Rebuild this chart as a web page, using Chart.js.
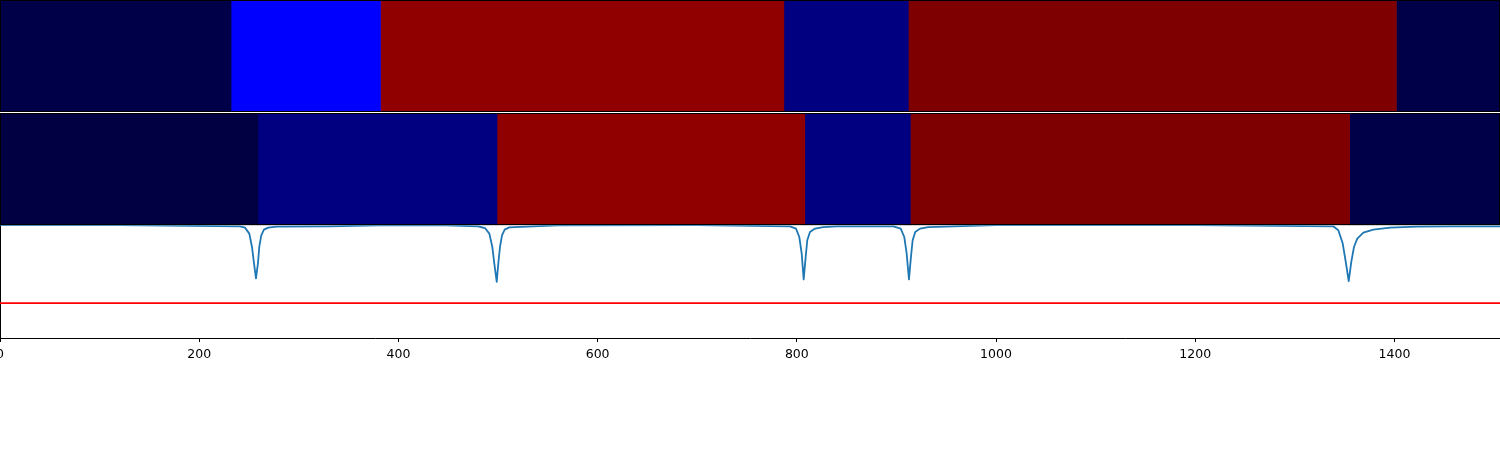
<!DOCTYPE html>
<html lang="en">
  <head>
     <meta charset="utf-8">
     <title>Segments and dips</title>
     <style>
       body { margin: 0; background: #fff; }
       #wrap { width: 1500px; height: 450px; }
     </style>
  </head>
  <script src="https://cdn.jsdelivr.net/npm/chart.js@4"></script>
  <body>
     <div id="wrap">
      <canvas id="chartCanvas" width="1500" height="450"></canvas>
     </div>
      <script>
        // two heat rows, each split into segments [start, end] on the x axis
        const rowLabels = ['top', 'bottom'];
        const topSegments = [[0, 232], [232, 382], [382, 787], [787, 912], [912, 1402], [1402, 1506]];
        const topColors = ['#000048', '#0000ff', '#900000', '#000080', '#7e0000', '#000048'];
        const bottomSegments = [[0, 259], [259, 499], [499, 808], [808, 914], [914, 1355], [1355, 1506]];
        const bottomColors = ['#000042', '#000080', '#900000', '#000080', '#7e0000', '#000048'];

        // the blue trace under the heat rows
        const traceX = [0, 120, 241, 246, 250.3, 253, 255, 257, 259, 260.3, 262.3, 265, 269.4, 277.8, 330, 380,
                        440, 480.2, 486.9, 491.3, 494.3, 496.3, 498.7, 500.3, 502, 504, 506.7, 511.3, 560, 700,
                        793.2, 799.2, 802.5, 804.9, 806.9, 808.9, 810.5, 813.2, 818.3, 826.6, 840, 870,
                        896.9, 904.3, 907.9, 910.3, 912.6, 914.6, 916.3, 918.9, 923.7, 932, 1000, 1200,
                        1338.6, 1343.7, 1348.1, 1351.4, 1354.1, 1356.7, 1359.4, 1362.7, 1368.8, 1378.8, 1395.6,
                        1422.4, 1455.8, 1506];
        const traceY = [0.012, 0.012, 0, -0.013, -0.073, -0.207, -0.37, -0.523, -0.37, -0.207, -0.09, -0.033, -0.013, -0.003, 0, 0.01,
                        0.012, 0, -0.017, -0.073, -0.207, -0.373, -0.557, -0.373, -0.207, -0.09, -0.033, -0.01, 0.01, 0.012,
                        0, -0.023, -0.107, -0.273, -0.533, -0.307, -0.14, -0.057, -0.023, -0.007, 0, 0,
                        0, -0.023, -0.107, -0.273, -0.533, -0.307, -0.14, -0.057, -0.023, -0.007, 0.012, 0.012,
                        0, -0.04, -0.173, -0.373, -0.55, -0.357, -0.207, -0.123, -0.063, -0.033, -0.013,
                        -0.003, 0, 0];
        const threshold = -0.77;
        const xTickStep = 200;

        const ctx = document.getElementById('chartCanvas');

        var heatDatasets = topSegments.map(function (seg, i) {
          return {
            type: 'bar',
            indexAxis: 'y',
            xAxisID: 'x',
            yAxisID: 'yHeat',
            data: [seg, bottomSegments[i]],
            backgroundColor: [topColors[i], bottomColors[i]],
            borderWidth: 0,
            grouped: false,
            barPercentage: 1,
            categoryPercentage: 1
          };
        });

        // black frames round each heat row, with a thin white gap between them
        const heatFrames = {
          id: 'heatFrames',
          afterDatasetsDraw: function (chart) {
            const s = chart.scales.yHeat;
            const c = chart.ctx;
            const left = chart.chartArea.left, width = chart.chartArea.right - left;
            const m = Math.round((s.top + s.bottom) / 2) - 1;
            const bot = Math.round(s.bottom);
            c.save();
            c.fillStyle = '#fff';
            c.fillRect(left, m, width, 1);
            c.strokeStyle = '#000';
            c.lineWidth = 1;
            c.strokeRect(left + 0.5, s.top + 0.5, width - 1, m - 1 - s.top);
            c.strokeRect(left + 0.5, m + 1.5, width - 1, bot - m - 2);
            c.restore();
          }
        };

        var chart = new Chart(ctx, {
            type: 'bar',
            data: {
              labels: rowLabels,
              datasets: [{
                type: 'line',
                xAxisID: 'x',
                yAxisID: 'yLine',
                data: traceX.map((x, i) => ({ x: x, y: traceY[i] })),
                borderColor: '#1f77b4',
                borderWidth: 1.8,
                borderJoinStyle: 'round',
                borderCapStyle: 'round',
                pointRadius: 0,
                tension: 0
              }, {
                type: 'line',
                xAxisID: 'x',
                yAxisID: 'yLine',
                data: [{ x: 0, y: threshold }, { x: 1506, y: threshold }],
                borderColor: '#ff0000',
                borderWidth: 1.8,
                pointRadius: 0
              }].concat(heatDatasets)
            },
            options: {
              responsive: false,
              animation: false,
              events: [],
              layout: { padding: { left: 0, right: 0, top: 0, bottom: 83 } },
              plugins: { legend: { display: false }, tooltip: { enabled: false } },
              scales: {
                x: {
                  type: 'linear',
                  position: 'bottom',
                  min: 0,
                  max: 1506,
                  offset: false,
                  afterBuildTicks: function (s) {
                    s.ticks = s.ticks.filter(t => t.value % xTickStep === 0);
                  },
                  afterFit: function (s) { s.paddingLeft = 0; s.paddingRight = 0; },
                  ticks: {
                    stepSize: xTickStep,
                    color: '#000',
                    maxRotation: 0,
                    autoSkip: false,
                    padding: 5,
                    font: { family: 'DejaVu Sans', size: 12.5 },
                    callback: v => String(v)
                  },
                  grid: { drawOnChartArea: false, offset: false, tickLength: 4, color: '#000' },
                  border: { color: '#000', width: 1 }
                },
                // left boxes stack from the last defined at the top
                yLine: {
                  type: 'linear',
                  position: 'left',
                  stack: 'panels',
                  stackWeight: 1,
                  min: -1.12,
                  max: 0.01,
                  ticks: { display: false },
                  grid: { display: false, drawTicks: false },
                  border: { color: '#000', width: 1 }
                },
                yHeat: {
                  type: 'category',
                  labels: rowLabels,
                  position: 'left',
                  stack: 'panels',
                  stackWeight: 2,
                  offset: true,
                  ticks: { display: false },
                  grid: { display: false, drawTicks: false },
                  border: { display: false }
                }
              }
            },
            plugins: [heatFrames]
          });
    </script>
  </body>
 </html>
